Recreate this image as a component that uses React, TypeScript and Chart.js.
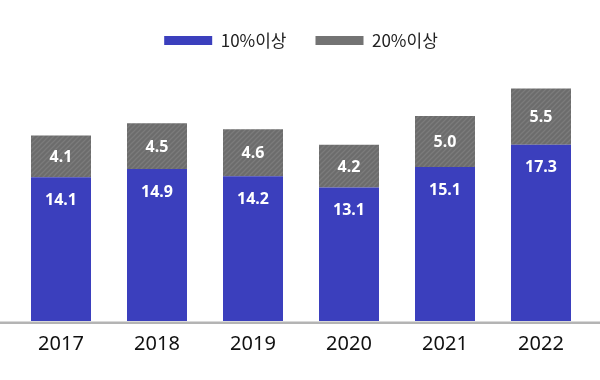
import React, { useEffect, useRef } from "react";
import { Chart, registerables } from "chart.js";

Chart.register(...registerables);

const categories = ["2017", "2018", "2019", "2020", "2021", "2022"];
const over10 = [14.1, 14.9, 14.2, 13.1, 15.1, 17.3];
const over20 = [4.1, 4.5, 4.6, 4.2, 5.0, 5.5];
const seriesNames = ["10%이상", "20%이상"];

const BLUE = "#3b3fbd";
const GRAY = "#737373";

function makeHatch(): CanvasPattern | string {
  const c = document.createElement("canvas");
  c.width = 5;
  c.height = 5;
  const g = c.getContext("2d");
  if (!g) return GRAY;
  g.fillStyle = "#6c6c6c";
  g.fillRect(0, 0, 5, 5);
  g.strokeStyle = "#7b7b7b";
  g.lineWidth = 1.3;
  g.beginPath();
  g.moveTo(0, 5);
  g.lineTo(5, 0);
  g.moveTo(-2.5, 2.5);
  g.lineTo(2.5, -2.5);
  g.moveTo(2.5, 7.5);
  g.lineTo(7.5, 2.5);
  g.stroke();
  return g.createPattern(c, "repeat") || GRAY;
}

const baselinePlugin = {
  id: "baseline",
  afterDatasetsDraw(chart: any) {
    const { ctx, chartArea } = chart;
    ctx.save();
    ctx.fillStyle = "#b4b4b4";
    ctx.fillRect(0, chartArea.bottom + 0.5, chart.width, 2.5);
    ctx.restore();
  },
};

const valueLabelPlugin = {
  id: "valueLabels",
  afterDatasetsDraw(chart: any) {
    const { ctx } = chart;
    ctx.save();
    ctx.fillStyle = "#ffffff";
    ctx.font = "bold 16px 'Noto Sans', sans-serif";
    ctx.textAlign = "center";
    ctx.textBaseline = "middle";
    chart.data.datasets.forEach((ds: any, di: number) => {
      const meta = chart.getDatasetMeta(di);
      meta.data.forEach((bar: any, i: number) => {
        const { x, y, base } = bar.getProps(["x", "y", "base"], true);
        const v = ds.data[i] as number;
        const ty = di === 0 ? y + 22 : (y + base) / 2;
        ctx.fillText(v.toFixed(1), x, ty + 1);
      });
    });
    ctx.restore();
  },
};

export default function App() {
  const ref = useRef<HTMLCanvasElement | null>(null);

  useEffect(() => {
    document.body.style.margin = "0";
    const canvas = ref.current;
    if (!canvas) return;
    const hatch = makeHatch();
    const legendColors = [BLUE, GRAY];
    const chart = new Chart(canvas, {
      type: "bar",
      data: {
        labels: categories,
        datasets: [
          {
            label: seriesNames[0],
            data: over10,
            backgroundColor: BLUE,
            borderWidth: 0,
          },
          {
            label: seriesNames[1],
            data: over20,
            backgroundColor: hatch as any,
            borderWidth: 0,
          },
        ],
      },
      options: {
        responsive: false,
        animation: false,
        layout: { padding: { left: 13, right: 11, top: 3, bottom: 21 } },
        datasets: {
          bar: { categoryPercentage: 1, barPercentage: 0.625 },
        },
        plugins: {
          tooltip: { enabled: false },
          legend: {
            position: "top",
            align: "center",
            labels: {
              boxWidth: 48,
              boxHeight: 9,
              padding: 29,
              color: "#222222",
              font: { size: 17, family: "'Noto Sans CJK KR', sans-serif" },
              generateLabels: (c: any) =>
                (Chart.defaults.plugins.legend.labels.generateLabels as any)(c).map(
                  (l: any, i: number) => ({
                    ...l,
                    fillStyle: legendColors[i],
                    strokeStyle: legendColors[i],
                    lineWidth: 0,
                  })
                ),
            },
          },
        },
        scales: {
          x: {
            stacked: true,
            grid: { display: false },
            border: { display: false },
            ticks: {
              padding: 3,
              color: "#111111",
              font: { size: 20, family: "'Noto Sans', sans-serif" },
            },
          },
          y: {
            stacked: true,
            display: false,
            min: 0,
            max: 25.7,
          },
        },
      },
      plugins: [baselinePlugin, valueLabelPlugin],
    });
    return () => chart.destroy();
  }, []);

  return (
    <div style={{ width: 600, height: 380 }}>
      <canvas ref={ref} width={600} height={380} />
    </div>
  );
}
